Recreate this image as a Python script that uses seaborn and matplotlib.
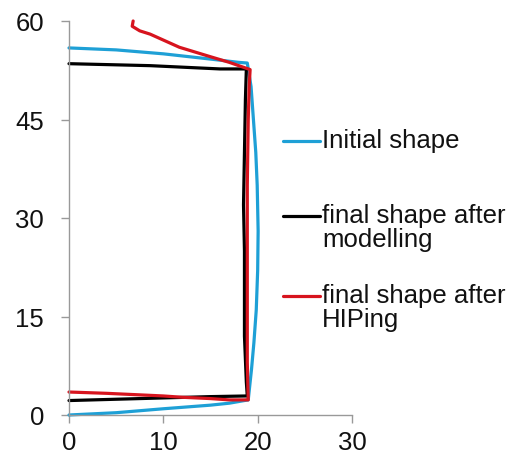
import matplotlib.pyplot as plt
import matplotlib
import seaborn as sns
import numpy as np
import pandas as pd
from matplotlib.lines import Line2D

# shape outlines (x = radius mm, y = height mm)
init_x = [0, 5, 10, 15, 18, 18.9, 19.3, 19.55, 19.8, 19.95, 20.05, 20.0, 19.85, 19.6, 19.35, 19.0,
          17, 15, 10, 5, 0]
init_y = [55.9, 55.6, 55.0, 54.2, 53.7, 53.6, 50, 45, 40, 35, 28, 22, 16, 11, 7, 2.3,
          1.8, 1.5, 0.95, 0.35, 0]

model_x = [0, 8.6, 16, 18.8, 18.7, 18.6, 18.5, 18.6, 18.6, 18.6, 18.8, 18.9, 15, 10, 5, 0]
model_y = [53.5, 53.2, 52.7, 52.7, 48, 40, 32, 25, 18, 12, 5, 2.9, 2.8, 2.6, 2.4, 2.2]

hip_x = [6.8, 6.7, 7.5, 8.6, 11.7, 14.9, 17.0, 19.2, 19.1, 19.0, 18.9, 18.9, 18.9, 18.9, 19.0,
         17, 15, 12, 10, 7, 4, 2, 0]
hip_y = [60.0, 59.2, 58.5, 58.0, 56.0, 54.6, 53.7, 52.6, 50, 45, 35, 25, 15, 8, 2.3,
         2.3, 2.5, 2.7, 2.9, 3.1, 3.3, 3.4, 3.5]

labels = ["Initial shape", "final shape after\nmodelling", "final shape after\nHIPing"]
colors = ["#1ea0d6", "#000000", "#d7141e"]

x_ticks = [0, 10, 20, 30]
y_ticks = [0, 15, 30, 45, 60]

sns.set_theme(style="ticks")
plt.rcParams['font.family'] = ['Liberation Sans', 'DejaVu Sans']
plt.rcParams['font.size'] = 18

fig = plt.figure(figsize=(5.12, 4.56), dpi=100)
ax = fig.add_axes([69 / 512, 1 - 416 / 456, (352 - 69) / 512, (416 - 22) / 456])

series = [(init_x, init_y), (model_x, model_y), (hip_x, hip_y)]
for (xs, ys), c in zip(series, colors):
    sns.lineplot(x=xs, y=ys, sort=False, estimator=None, color=c, linewidth=2.3,
                 ax=ax, clip_on=False)

ax.set_xlim(0, 30)
ax.set_ylim(0, 60)
ax.set_xticks(x_ticks)
ax.set_yticks(y_ticks)
ax.tick_params(labelsize=18.5, length=6, width=1, color="#999999", labelcolor="#111111")
ax.tick_params(axis="y", pad=12)
ax.tick_params(axis="x", pad=5)
ax.spines['top'].set_visible(False)
ax.spines['right'].set_visible(False)
for s in ['left', 'bottom']:
    ax.spines[s].set_color("#999999")
    ax.spines[s].set_linewidth(1)

# legend drawn by hand so the handle sits on the first text line
legend_y = [142, 217, 297]
for lab, c, py in zip(labels, colors, legend_y):
    yf = 1 - py / 456
    fig.add_artist(Line2D([283 / 512, 320 / 512], [yf, yf], transform=fig.transFigure,
                          color=c, linewidth=2.3))
    fig.text(322 / 512, yf + 12.5 / 456, lab, ha="left", va="top", fontsize=18.5,
             linespacing=1.0, color="#111111", transform=fig.transFigure)

fig.savefig("out.png", dpi=100)
